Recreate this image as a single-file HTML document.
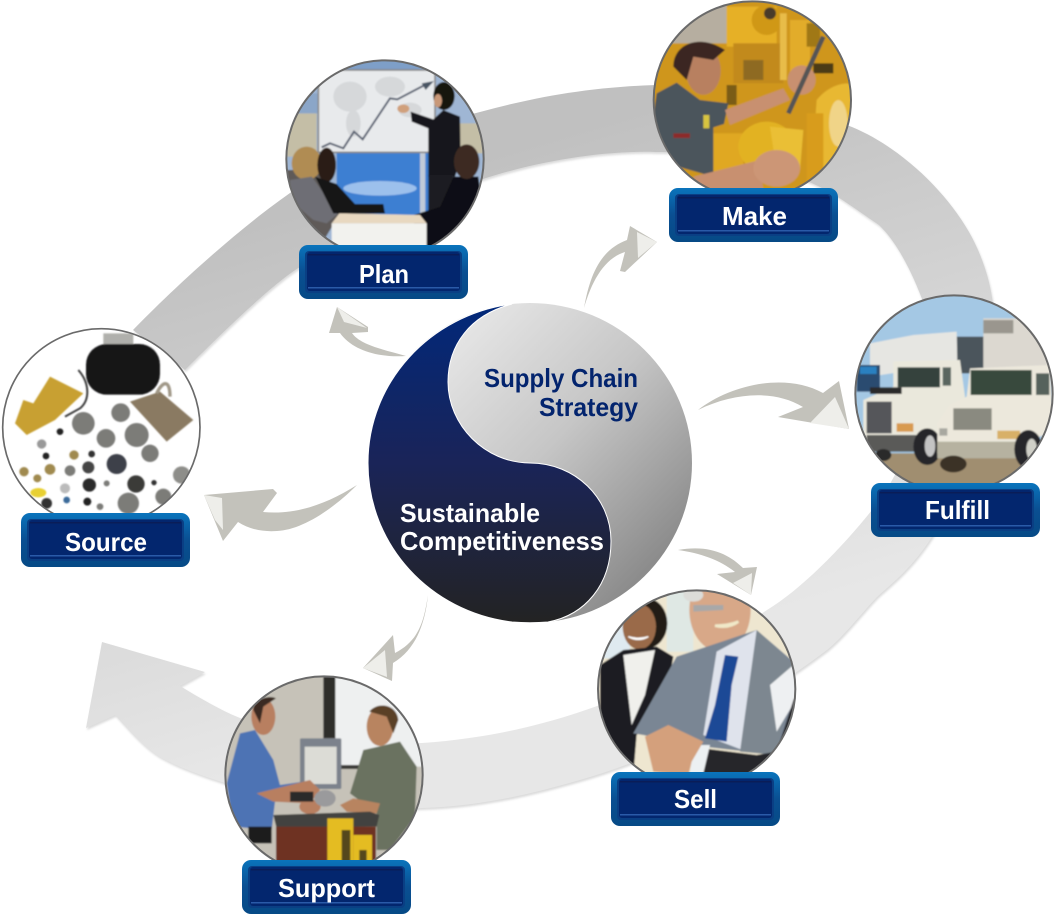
<!DOCTYPE html>
<html><head><meta charset="utf-8"><style>
html,body{margin:0;padding:0;background:#fff}
svg{display:block}
text{font-family:"Liberation Sans",sans-serif;font-weight:bold}
</style></head><body>
<svg width="1056" height="917" viewBox="0 0 1056 917" xmlns="http://www.w3.org/2000/svg">
<defs>
<linearGradient id="band" gradientUnits="userSpaceOnUse" x1="500" y1="150" x2="650" y2="650">
<stop offset="0" stop-color="#c0c0c0"/><stop offset="1" stop-color="#e7e7e7"/></linearGradient>
<linearGradient id="light" gradientUnits="userSpaceOnUse" x1="400" y1="320" x2="680" y2="590">
<stop offset="0" stop-color="#f0f0f0"/><stop offset=".5" stop-color="#c6c6c6"/><stop offset="1" stop-color="#7e7e7e"/></linearGradient>
<linearGradient id="dark" x1="0" y1="0" x2="0" y2="1">
<stop offset="0" stop-color="#01287a"/><stop offset=".5" stop-color="#1a2458"/><stop offset="1" stop-color="#232323"/></linearGradient>
<linearGradient id="lo" x1="0" y1="0" x2="0" y2="1">
<stop offset="0" stop-color="#0a74bc"/><stop offset=".5" stop-color="#0a4f92"/><stop offset="1" stop-color="#064a86"/></linearGradient>
<filter id="b" x="-5%" y="-5%" width="110%" height="110%"><feGaussianBlur stdDeviation="2.4"/></filter>
<clipPath id="c1"><circle cx="315" cy="297" r="296"/></clipPath>
<clipPath id="c2"><circle cx="307" cy="300" r="296"/></clipPath>
<clipPath id="c3"><circle cx="304" cy="322" r="296"/></clipPath>
<clipPath id="c4"><circle cx="312" cy="312" r="296"/></clipPath>
<clipPath id="c5"><circle cx="320" cy="312" r="296"/></clipPath>
<clipPath id="c6"><circle cx="312" cy="315" r="296"/></clipPath>
<g id="lbl">
<rect x="0" y="0" width="169" height="54" rx="9" fill="url(#lo)"/>
<rect x="6" y="6" width="157" height="42" rx="4" fill="#0a3f84"/>
<rect x="8" y="7" width="153" height="39" rx="3" fill="#03266e"/>
<rect x="9" y="42" width="151" height="1.5" fill="#2a5aa8"/>
<rect x="9" y="9" width="151" height="1.5" fill="#0a1d58"/>
</g>
</defs>

<!-- ring -->
<path fill="url(#band)" style="filter:drop-shadow(1px 2px 1px rgba(0,0,0,.14))" d="M102,642 L205,672 L180,686 C200,698 220,710 240,718 C300,742 360,746 422,743 C490,738 545,725 600,705 C660,680 715,645 767,610 C800,590 840,550 872,510 C905,470 940,385 924,304 C915,280 900,245 879,225 C850,205 840,198 828,191 C780,165 710,152 656,152 C600,150 530,163 480,180 C400,205 350,235 300,267 C270,285 210,345 185,370 L133,330 C165,297 230,235 290,193 C350,155 415,128 480,112 C535,97 590,87 656,85 C720,87 790,103 852,127 C900,147 945,190 969,232 C982,255 990,280 993,304 C1005,370 985,460 930,540 C910,570 890,585 877,597 C860,615 845,635 827,650 C760,700 680,750 590,777 C530,795 480,806 422,808 C350,812 285,805 225,783 C200,775 180,768 160,757 C140,745 125,725 115,715 L86,728 Z"/>

<!-- swooshes -->
<g fill="#c3c2bb">
<path d="M406,356 C385,350 360,345 352,333 L368,332 L368,327 L337,307 L329,333 L340,333 C352,350 378,358 406,356 Z"/>
<path d="M584,308 C590,275 600,250 627,240 L630,226 L657,242 L625,272 L620,271 L625,252 C605,258 592,280 584,308 Z"/>
<path d="M698,410 C730,385 785,372 823,393 L839,381 L849,429 L778,417 L803,407 C775,390 735,392 698,410 Z"/>
<path d="M678,550 C710,544 730,555 743,568 L757,567 L751,595 L717,574 L735,572 C720,560 700,553 678,550 Z"/>
<path d="M428,595 C424,620 420,640 395,653 L393,635 L363,668 L392,681 L393,663 C415,650 425,625 428,595 Z"/>
<path d="M357,485 C325,505 295,515 263,512 L277,493 L273,489 L204,495 L223,541 L238,522 C250,530 265,532 277,531 C300,530 330,512 357,485 Z"/>
</g>
<g fill="#eeeeea">
<polygon points="337,307 344,322 367,328"/>
<polygon points="657,242 637,232 638,258"/>
<polygon points="849,429 835,397 810,423"/>
<polygon points="751,595 752,573 733,583"/>
<polygon points="363,668 385,650 387,677"/>
<polygon points="204,495 222,498 223,530 215,520"/>
</g>

<!-- centre -->
<ellipse cx="530" cy="463" rx="162" ry="160" fill="url(#light)"/>
<path d="M512,304 C470,315 448,345 448,382 C448,425 485,463 530,463 C575,463 611,498 611,541 C611,585 585,615 548,622 C535,623 525,623 512,622 C430,612 368,545 368,463 C368,382 430,315 512,304 Z" fill="url(#dark)" stroke="#fff" stroke-width="1"/>
<g font-size="26" fill="#03246e">
<text x="484" y="387" textLength="154" lengthAdjust="spacingAndGlyphs">Supply Chain</text>
<text x="539" y="416" textLength="99" lengthAdjust="spacingAndGlyphs">Strategy</text>
</g>
<g font-size="26" fill="#fff">
<text x="400" y="522" textLength="140" lengthAdjust="spacingAndGlyphs">Sustainable</text>
<text x="400" y="550" textLength="204" lengthAdjust="spacingAndGlyphs">Competitiveness</text>
</g>

<!-- Plan -->
<g transform="translate(280,60) scale(.33333)">
<g clip-path="url(#c1)"><g filter="url(#b)">
<rect width="640" height="600" fill="#9fb6d4"/>
<rect x="100" y="0" width="420" height="35" fill="#7e9fc8"/>
<rect x="20" y="160" width="90" height="130" fill="#c4bea6"/>
<rect x="540" y="190" width="70" height="90" fill="#c4bea6"/>
<rect x="20" y="100" width="95" height="60" fill="#8ba6c8"/>
<rect x="170" y="275" width="280" height="200" fill="#3d7fd2"/>
<ellipse cx="300" cy="385" rx="110" ry="22" fill="#9cc0ec"/>
<rect x="420" y="275" width="16" height="190" fill="#c0cad8"/>
<rect x="115" y="30" width="350" height="247" fill="#e8eaec" stroke="#8a8a8a" stroke-width="5"/>
<ellipse cx="210" cy="110" rx="50" ry="45" fill="#d6d8da"/><ellipse cx="220" cy="190" rx="22" ry="40" fill="#d6d8da"/><ellipse cx="330" cy="80" rx="45" ry="30" fill="#d6d8da"/><ellipse cx="390" cy="150" rx="35" ry="22" fill="#d6d8da"/>
<polyline points="125,262 150,250 190,265 222,215 248,238 330,115 352,118 440,72" fill="none" stroke="#5a6272" stroke-width="6"/>
<polygon points="462,63 425,70 437,90" fill="#4a5464"/>
<path d="M0,330 L130,330 L180,460 L120,560 L0,560 Z" fill="#5e5a58"/>
<path d="M490,150 L540,170 L542,300 L525,350 L445,350 L445,205 L395,185 L392,155 L460,178 Z" fill="#17171b"/>
<path d="M445,345 L520,345 L505,480 L445,480 Z" fill="#1c1c20"/>
<ellipse cx="492" cy="108" rx="32" ry="42" fill="#16120f"/><ellipse cx="474" cy="122" rx="12" ry="20" fill="#c89878"/>
<ellipse cx="370" cy="146" rx="18" ry="13" fill="#d0a07c"/>
<path d="M595,350 L605,420 L560,570 L440,570 L392,468 L480,440 L520,350 Z" fill="#111114"/>
<ellipse cx="560" cy="305" rx="38" ry="52" fill="#3c2b22"/>
<ellipse cx="80" cy="310" rx="45" ry="50" fill="#b08c52"/>
<path d="M30,360 L95,350 L175,460 L140,490 L100,480 L30,420 Z" fill="#6e6e74"/>
<ellipse cx="140" cy="315" rx="28" ry="52" fill="#2a1c18"/>
<path d="M105,350 L170,372 L225,432 L310,432 L315,460 L210,462 L160,460 Z" fill="#131315"/>
<path d="M155,490 L178,460 L420,465 L440,490 Z" fill="#e8d8c0"/>
<rect x="155" y="490" width="285" height="75" fill="#f2f2ee"/>
</g></g>
<circle cx="315" cy="297" r="296" fill="none" stroke="#6a6a6a" stroke-width="6"/>
</g>

<!-- Make -->
<g transform="translate(650,0) scale(.33333)">
<g clip-path="url(#c2)"><g filter="url(#b)">
<rect width="640" height="610" fill="#cf961c"/>
<rect x="0" y="0" width="230" height="130" fill="#b6aea0"/>
<rect x="230" y="20" width="150" height="120" fill="#e6b028"/>
<circle cx="350" cy="60" r="45" fill="#d09818"/><circle cx="360" cy="40" r="18" fill="#4a3a2a"/>
<rect x="250" y="130" width="150" height="120" fill="#c28a1c"/>
<rect x="280" y="180" width="60" height="60" fill="#8e6a20"/>
<rect x="420" y="60" width="60" height="200" fill="#e2ac2a"/>
<rect x="230" y="255" width="30" height="60" fill="#7a5c18"/><rect x="390" y="40" width="20" height="200" fill="#e8bc48"/><rect x="490" y="190" width="60" height="30" fill="#4c3a16"/><rect x="470" y="70" width="40" height="70" fill="#a07818"/>
<rect x="190" y="400" width="90" height="130" fill="#e0a820"/>
<path d="M500,300 C540,250 600,240 620,260 L620,560 L480,580 Z" fill="#e8b830"/>
<ellipse cx="565" cy="370" rx="28" ry="70" fill="#f0d488"/>
<rect x="470" y="340" width="50" height="220" fill="#d89c1c"/>
<path d="M20,280 L80,248 L150,300 L235,310 L222,372 L190,382 L190,530 L50,490 L10,350 Z" fill="#4c555c"/>
<ellipse cx="160" cy="212" rx="52" ry="72" fill="#b88060"/>
<path d="M70,200 C70,130 150,100 225,150 L190,180 L130,170 L110,240 Z" fill="#3a2820"/>
<polygon points="225,330 400,265 420,300 240,375" fill="#c89070"/>
<ellipse cx="455" cy="240" rx="42" ry="44" fill="#c89070"/>
<line x1="520" y1="110" x2="415" y2="340" stroke="#555" stroke-width="14"/>
<ellipse cx="350" cy="440" rx="85" ry="75" fill="#e2b224"/>
<path d="M360,380 L460,390 L450,510 L380,510 Z" fill="#eabf34"/>
<polygon points="130,530 330,480 340,570 150,570" fill="#c89070"/>
<ellipse cx="380" cy="505" rx="70" ry="55" fill="#cc9676"/>
<rect x="70" y="400" width="50" height="14" fill="#8c2a2a"/>
<rect x="160" y="345" width="18" height="40" fill="#d8c440"/>
</g></g>
<circle cx="307" cy="300" r="296" fill="none" stroke="#6a6a6a" stroke-width="6"/>
</g>

<!-- Source -->
<g transform="translate(0,320) scale(.33333)">
<circle cx="304" cy="322" r="296" fill="#fff"/>
<g clip-path="url(#c3)"><g filter="url(#b)">
<rect x="310" y="40" width="90" height="50" fill="#b0b0ac"/>
<rect x="258" y="72" width="222" height="152" rx="62" fill="#121214"/>
<path d="M235,150 C270,190 270,240 240,265 L195,290" fill="none" stroke="#3a3a3a" stroke-width="6"/>
<polygon points="45,310 70,240 100,250 150,170 250,220 165,300 80,345" fill="#c8a030"/>
<polygon points="390,245 480,215 580,300 500,365" fill="#8a7a62"/>
<path d="M470,220 C490,180 510,180 510,230" fill="none" stroke="#a09888" stroke-width="10"/>
<g fill="#7c7c78">
<circle cx="250" cy="310" r="34"/><circle cx="362" cy="278" r="28"/><circle cx="318" cy="355" r="28"/><circle cx="410" cy="345" r="36"/><circle cx="450" cy="400" r="26"/>
<circle cx="350" cy="432" r="30" fill="#3c4048"/><circle cx="210" cy="452" r="16"/><circle cx="265" cy="442" r="18" fill="#444"/><circle cx="268" cy="495" r="20" fill="#2c2c2c"/>
<circle cx="408" cy="492" r="26" fill="#3a3a38"/><circle cx="490" cy="530" r="24"/><circle cx="545" cy="465" r="26" fill="#8e8e8a"/>
<circle cx="385" cy="550" r="32"/><circle cx="140" cy="550" r="16" fill="#333"/><circle cx="262" cy="545" r="12" fill="#222"/>
<circle cx="180" cy="335" r="10" fill="#222"/><circle cx="125" cy="372" r="14" fill="#999"/><circle cx="138" cy="408" r="10" fill="#222"/><circle cx="222" cy="405" r="14" fill="#a08a50"/><circle cx="275" cy="402" r="10" fill="#333"/>
<circle cx="150" cy="448" r="16" fill="#a08a50"/><circle cx="72" cy="455" r="14" fill="#a08a50"/><circle cx="112" cy="475" r="12" fill="#a08a50"/><circle cx="195" cy="505" r="15" fill="#bbb"/>
<circle cx="462" cy="488" r="8" fill="#333"/><circle cx="200" cy="540" r="10" fill="#3a6a9a"/><circle cx="320" cy="490" r="9"/><circle cx="300" cy="560" r="10"/>
</g>
<ellipse cx="115" cy="518" rx="24" ry="14" fill="#e8d030"/>
</g></g>
<circle cx="304" cy="322" r="296" fill="none" stroke="#6a6a6a" stroke-width="5"/>
</g>

<!-- Fulfill -->
<g transform="translate(850,290) scale(.33333)">
<g clip-path="url(#c4)"><g filter="url(#b)">
<rect width="640" height="630" fill="#a4c8e4"/>
<rect x="320" y="140" width="90" height="110" fill="#4c545c"/>
<polygon points="60,160 190,135 320,125 322,220 60,260" fill="#e6e6e2"/>
<rect x="400" y="85" width="210" height="160" fill="#dcd8d0"/>
<rect x="400" y="90" width="90" height="40" fill="#9a968e"/>
<rect x="20" y="225" width="70" height="80" fill="#2c4c70"/>
<rect x="30" y="230" width="50" height="22" fill="#2a80c0"/>
<path d="M130,215 L330,210 L345,320 L320,420 L260,500 L40,450 L40,330 L130,290 Z" fill="#eae8dc"/>
<rect x="143" y="232" width="127" height="60" fill="#34423e"/>
<rect x="278" y="232" width="25" height="55" fill="#5a6660"/>
<rect x="60" y="292" width="95" height="20" fill="#2c2c2c"/>
<rect x="50" y="335" width="75" height="95" fill="#55565a"/>
<rect x="50" y="435" width="150" height="50" fill="#5a5a58"/>
<rect x="140" y="400" width="50" height="25" fill="#d89a50"/>
<rect x="0" y="490" width="640" height="130" fill="#a08e70"/>
<ellipse cx="232" cy="470" rx="42" ry="55" fill="#28282a"/><ellipse cx="240" cy="468" rx="16" ry="32" fill="#c4c4c4"/>
<ellipse cx="100" cy="495" rx="24" ry="18" fill="#2a2a2a"/>
<path d="M360,235 L600,225 L610,420 L530,460 L510,505 L262,490 L262,400 L300,345 L350,320 Z" fill="#ecE8dc"/>
<rect x="362" y="240" width="183" height="75" fill="#38483e"/>
<rect x="558" y="250" width="40" height="65" fill="#56625c"/>
<rect x="310" y="355" width="115" height="65" fill="#8a8a80"/>
<rect x="262" y="455" width="250" height="50" fill="#b6b2a0"/>
<rect x="442" y="422" width="68" height="25" fill="#d8b068"/>
<rect x="268" y="415" width="24" height="22" fill="#a8a8a0"/>
<ellipse cx="535" cy="478" rx="42" ry="58" fill="#26262a"/><ellipse cx="545" cy="478" rx="16" ry="32" fill="#d0d0c8"/>
<ellipse cx="310" cy="522" rx="40" ry="25" fill="#3a3228"/>
</g></g>
<circle cx="312" cy="312" r="296" fill="none" stroke="#6a6a6a" stroke-width="6"/>
</g>

<!-- Sell -->
<g transform="translate(590,585) scale(.33333)">
<g clip-path="url(#c5)"><g filter="url(#b)">
<rect width="640" height="630" fill="#eee6d0"/>
<rect x="230" y="20" width="80" height="180" fill="#dfe8e4"/>
<rect x="20" y="80" width="100" height="140" fill="#dfeaf0"/>
<ellipse cx="170" cy="115" rx="62" ry="75" fill="#241a16"/>
<ellipse cx="148" cy="125" rx="50" ry="68" fill="#9a6a48"/>
<path d="M115,155 Q145,172 175,155 Q145,165 115,155Z" fill="#fff" stroke="#fff" stroke-width="4"/>
<path d="M30,240 L100,195 L200,185 L250,215 L230,330 L140,450 L130,570 L30,500 Z" fill="#1a1c20"/>
<path d="M100,210 L195,195 L165,330 L125,420 Z" fill="#f0f0ec"/>
<ellipse cx="390" cy="75" rx="92" ry="125" fill="#d8a888"/>
<path d="M310,60 L400,60 L400,75 L310,80 Z" fill="#a8a8a8"/>
<path d="M375,122 Q415,132 445,110 Q415,122 375,122Z" fill="#fff" stroke="#f0e8c8" stroke-width="8"/>
<ellipse cx="310" cy="30" rx="30" ry="20" fill="#dcdcd8"/>
<path d="M130,445 L260,215 L380,175 L500,135 L610,230 L625,360 L560,510 L300,480 L160,450 Z" fill="#7a8694"/>
<path d="M380,200 L500,135 L470,500 L340,450 Z" fill="#dfe3ec"/>
<polygon points="405,210 445,215 425,300 410,470 345,460 375,360" fill="#1c4a96"/>
<polygon points="500,135 610,240 560,510 450,500" fill="#7d8790"/>
<path d="M540,300 L610,240 L620,340 L560,440 Z" fill="#eef0f2"/>
<path d="M340,490 L500,510 L560,500 L612,340 L640,580 L310,580 Z" fill="#26262c"/>
<path d="M310,480 L360,480 L340,565 L300,565 Z" fill="#ecf0f2"/>
<path d="M165,455 L235,420 L340,470 L305,530 L295,570 L190,560 Z" fill="#d4a07c"/>
</g></g>
<circle cx="320" cy="312" r="296" fill="none" stroke="#6a6a6a" stroke-width="6"/>
</g>

<!-- Support -->
<g transform="translate(220,670) scale(.33333)">
<g clip-path="url(#c6)"><g filter="url(#b)">
<rect width="640" height="640" fill="#c6c2b8"/>
<rect x="345" y="20" width="270" height="270" fill="#eef0f0"/>
<rect x="310" y="20" width="36" height="185" fill="#2e2e2c"/>
<rect x="362" y="285" width="60" height="12" fill="#3a3a38"/>
<rect x="240" y="205" width="124" height="152" rx="4" fill="#7c828c"/>
<rect x="254" y="230" width="96" height="112" fill="#dcdcd6"/>
<path d="M60,190 L105,180 L160,270 L180,345 L250,335 L260,370 L165,395 L155,480 L40,470 L20,340 Z" fill="#4d73b4"/>
<ellipse cx="130" cy="140" rx="36" ry="55" fill="#b87f60"/>
<path d="M100,120 C100,85 150,75 168,85 L130,110 L120,160 Z" fill="#3a2a20"/>
<rect x="85" y="470" width="70" height="50" fill="#1c1c1c"/>
<path d="M110,370 L270,330 L300,360 L270,400 L160,395 Z" fill="#b87f60"/>
<ellipse cx="270" cy="410" rx="32" ry="22" fill="#b87f60"/>
<rect x="210" y="365" width="70" height="30" fill="#2a2a2a"/>
<path d="M430,240 L540,215 L590,290 L585,440 L510,540 L470,540 L470,430 L390,370 Z" fill="#6a7260"/>
<ellipse cx="480" cy="170" rx="40" ry="58" fill="#b88460"/>
<path d="M448,125 C470,95 530,100 535,150 L520,190 L500,140 Z" fill="#5a4028"/>
<path d="M360,405 L400,385 L480,400 L470,430 L380,425 Z" fill="#b88460"/>
<path d="M160,435 L450,425 L478,435 L470,470 L170,475 Z" fill="#43433f"/>
<rect x="168" y="470" width="300" height="130" fill="#6e3220"/>
<rect x="322" y="445" width="78" height="150" fill="#e4bc24"/>
<rect x="365" y="480" width="26" height="100" fill="#54461c"/>
<rect x="400" y="495" width="56" height="100" fill="#e4bc24"/>
<rect x="418" y="540" width="22" height="40" fill="#54461c"/>
<ellipse cx="315" cy="385" rx="32" ry="25" fill="#9a9a9c"/>
</g></g>
<circle cx="312" cy="315" r="296" fill="none" stroke="#6a6a6a" stroke-width="6"/>
</g>

<!-- labels -->
<use href="#lbl" x="299" y="245"/>
<use href="#lbl" x="669" y="188"/>
<use href="#lbl" x="21" y="513"/>
<use href="#lbl" x="871" y="483"/>
<use href="#lbl" x="611" y="772"/>
<use href="#lbl" x="242" y="860"/>
<g font-size="26" fill="#fff">
<text x="359" y="283" textLength="50" lengthAdjust="spacingAndGlyphs">Plan</text>
<text x="722" y="225" textLength="65" lengthAdjust="spacingAndGlyphs">Make</text>
<text x="65" y="551" textLength="82" lengthAdjust="spacingAndGlyphs">Source</text>
<text x="925" y="519" textLength="65" lengthAdjust="spacingAndGlyphs">Fulfill</text>
<text x="674" y="808" textLength="43" lengthAdjust="spacingAndGlyphs">Sell</text>
<text x="278" y="897" textLength="97" lengthAdjust="spacingAndGlyphs">Support</text>
</g>
</svg>
</body></html>
